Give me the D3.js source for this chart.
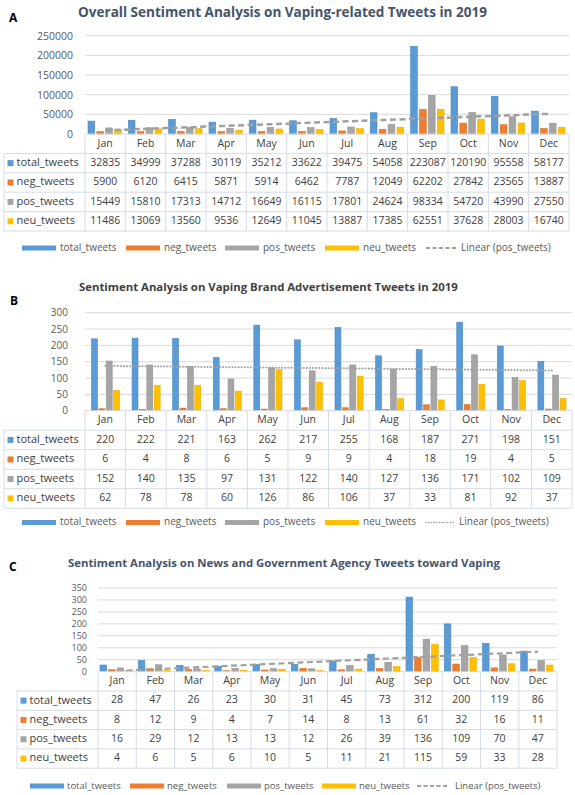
<!DOCTYPE html>
<html><head><meta charset="utf-8">
<script src="https://cdn.jsdelivr.net/npm/d3@7"></script>
<style>
body{margin:0;background:#fff}
svg{display:block}
text{font-family:'Open Sans',sans-serif}
</style>
</head><body>
<svg id="chart" width="575" height="795"></svg>
<script>
// ---------- DATA ----------
const months = ["Jan","Feb","Mar","Apr","May","Jun","Jul","Aug","Sep","Oct","Nov","Dec"];
const seriesNames = ["total_tweets","neg_tweets","pos_tweets","neu_tweets"];
const trendLabel = "Linear (pos_tweets)";

const aTotal = [32835,34999,37288,30119,35212,33622,39475,54058,223087,120190,95558,58177];
const aNeg   = [5900,6120,6415,5871,5914,6462,7787,12049,62202,27842,23565,13887];
const aPos   = [15449,15810,17313,14712,16649,16115,17801,24624,98334,54720,43990,27550];
const aNeu   = [11486,13069,13560,9536,12649,11045,13887,17385,62551,37628,28003,16740];
const aTicks = [0,50000,100000,150000,200000,250000];
const aTitle = "Overall Sentiment Analysis on Vaping-related Tweets in 2019";

const bTotal = [220,222,221,163,262,217,255,168,187,271,198,151];
const bNeg   = [6,4,8,6,5,9,9,4,18,19,4,5];
const bPos   = [152,140,135,97,131,122,140,127,136,171,102,109];
const bNeu   = [62,78,78,60,126,86,106,37,33,81,92,37];
const bTicks = [0,50,100,150,200,250,300];
const bTitle = "Sentiment Analysis on Vaping Brand Advertisement Tweets in 2019";

const cTotal = [28,47,26,23,30,31,45,73,312,200,119,86];
const cNeg   = [8,12,9,4,7,14,8,13,61,32,16,11];
const cPos   = [16,29,12,13,13,12,26,39,136,109,70,47];
const cNeu   = [4,6,5,6,10,5,11,21,115,59,33,28];
const cTicks = [0,50,100,150,200,250,300,350];
const cTitle = "Sentiment Analysis on News and Government Agency Tweets toward Vaping";

// ---------- STYLE ----------
const colors = ["#5B9BD5","#ED7D31","#A5A5A5","#FFC000"];
const strokes = ["#4a89c4","#d96d22","#959595","#e8ae00"];
const gridColor = "#D9D9D9";
const tableColor = "#D6DCE5";
const svg = d3.select("#chart");

function fitText(sel, target){
  const w = sel.node().getComputedTextLength();
  const fs = parseFloat(sel.attr("font-size"));
  sel.attr("font-size", (fs*target/w).toFixed(2));
}

function panel(cfg){
  const g = svg.append("g");
  const series = [cfg.total, cfg.neg, cfg.pos, cfg.neu];

  g.append("text").attr("x", cfg.letterX).attr("y", cfg.letterY)
    .attr("font-size", 12).attr("font-weight", 700).attr("fill", "#000")
    .attr("font-family","'Liberation Sans',Arial,sans-serif")
    .attr("dominant-baseline","middle").text(cfg.letter);

  const t = g.append("text").attr("x", cfg.titleX).attr("y", cfg.titleY)
    .attr("font-size", 14).attr("font-weight", 700).attr("fill", cfg.titleColor)
    .attr("dominant-baseline","middle").text(cfg.title);
  fitText(t, cfg.titleW);

  const x0 = d3.scaleBand().domain(months).range([cfg.left, cfg.right]).padding(0);
  const x1 = d3.scaleBand().domain(seriesNames)
    .range([cfg.barOff0, x0.bandwidth() - cfg.barOff1]).paddingInner(cfg.pIn).paddingOuter(0);
  const y = d3.scaleLinear().domain([0, d3.max(cfg.ticks)]).range([cfg.bottom, cfg.top]);

  g.append("g").selectAll("line").data(cfg.ticks.slice(1)).join("line")
    .attr("x1", cfg.left).attr("x2", cfg.right)
    .attr("y1", d => y(d)).attr("y2", d => y(d))
    .attr("stroke", gridColor).attr("stroke-width", 1);

  const ax = d3.axisLeft(y).tickValues(cfg.ticks).tickSize(0).tickPadding(0).tickFormat(d3.format("d"));
  const axG = g.append("g").attr("transform", `translate(${cfg.labelRight},0)`).call(ax);
  axG.select(".domain").remove();
  axG.selectAll("text").attr("font-size", cfg.axisFont).attr("fill", "#595959")
    .attr("font-family","'Open Sans',sans-serif");

  const mg = g.append("g").selectAll("g").data(months).join("g")
    .attr("transform", d => `translate(${x0(d)},0)`);
  mg.selectAll("rect").data((m,i) => series.map((s,k) => ({k, v: s[i]}))).join("rect")
    .attr("x", d => x1(seriesNames[d.k]))
    .attr("width", x1.bandwidth())
    .attr("y", d => y(d.v))
    .attr("height", d => cfg.bottom - y(d.v))
    .attr("fill", d => colors[d.k])
    .attr("stroke", d => strokes[d.k]).attr("stroke-width", 0.6);

  // linear trendline of pos series (least squares, like Excel)
  const n = cfg.pos.length;
  const xs = d3.range(1, n+1);
  const mx = d3.mean(xs), my = d3.mean(cfg.pos);
  const slope = d3.sum(xs, (xv,i) => (xv-mx)*(cfg.pos[i]-my)) / d3.sum(xs, xv => (xv-mx)*(xv-mx));
  const icpt = my - slope*mx;
  const trend = [1, n].map(xv => ({m: months[xv-1], v: icpt + slope*xv}));
  g.append("path").datum(trend)
    .attr("d", d3.line().x(d => x0(d.m) + x0.bandwidth()/2).y(d => y(d.v)))
    .attr("fill","none").attr("stroke", "#A0A0A0")
    .attr("stroke-width", cfg.trendW).attr("stroke-dasharray", cfg.dash)
    .attr("stroke-linecap", cfg.cap);

  const tb = g.append("g");
  const rowsY = d3.range(6).map(i => cfg.bottom + i*cfg.rowH);
  tb.append("line").attr("x1", cfg.left).attr("x2", cfg.right).attr("y1", rowsY[0]).attr("y2", rowsY[0])
    .attr("stroke", tableColor);
  for(let i=1;i<6;i++){
    tb.append("line").attr("x1", cfg.tableLeft).attr("x2", cfg.right).attr("y1", rowsY[i]).attr("y2", rowsY[i])
      .attr("stroke", tableColor);
  }
  months.forEach((m,i) => {
    tb.append("line").attr("x1", x0(m)).attr("x2", x0(m)).attr("y1", rowsY[0]).attr("y2", rowsY[5])
      .attr("stroke", tableColor);
  });
  tb.append("line").attr("x1", cfg.right).attr("x2", cfg.right).attr("y1", rowsY[0]).attr("y2", rowsY[5])
    .attr("stroke", tableColor);
  tb.append("line").attr("x1", cfg.tableLeft).attr("x2", cfg.tableLeft).attr("y1", rowsY[1]).attr("y2", rowsY[5])
    .attr("stroke", tableColor);

  tb.selectAll("text.m").data(months).join("text").attr("class","m")
    .attr("x", d => x0(d) + x0.bandwidth()/2).attr("y", (rowsY[0]+rowsY[1])/2)
    .attr("text-anchor","middle").attr("dominant-baseline","middle")
    .attr("font-size", cfg.cellFont).attr("fill", "#404040").text(d => d);

  series.forEach((s,k) => {
    const cy = (rowsY[k+1]+rowsY[k+2])/2;
    tb.append("rect").attr("x", cfg.tableLeft + 3.5).attr("y", cy-3).attr("width", 6).attr("height", 6)
      .attr("fill", colors[k]);
    tb.append("text").attr("x", cfg.tableLeft + 12.5).attr("y", cy)
      .attr("dominant-baseline","middle").attr("font-size", cfg.labelFont).attr("fill","#404040")
      .text(seriesNames[k]);
    tb.selectAll(null).data(s).join("text")
      .attr("x", (d,i) => x0(months[i]) + x0.bandwidth()/2).attr("y", cy)
      .attr("text-anchor","middle").attr("dominant-baseline","middle")
      .attr("font-size", cfg.cellFont).attr("fill","#404040").text(d => d);
  });

  const lg = g.append("g");
  seriesNames.forEach((nm,k) => {
    lg.append("rect").attr("x", cfg.legSw[k]).attr("y", cfg.legY-2.5).attr("width", 34).attr("height", 5)
      .attr("fill", colors[k]);
    lg.append("text").attr("x", cfg.legTx[k]).attr("y", cfg.legY).attr("dominant-baseline","middle")
      .attr("font-size", cfg.legFont).attr("fill","#595959").text(nm);
  });
  lg.append("line").attr("x1", cfg.legLine[0]).attr("x2", cfg.legLine[1]).attr("y1", cfg.legY).attr("y2", cfg.legY)
    .attr("stroke","#A0A0A0").attr("stroke-width", cfg.trendW*0.8).attr("stroke-dasharray", cfg.legDash)
    .attr("stroke-linecap", cfg.cap);
  lg.append("text").attr("x", cfg.legLine[2]).attr("y", cfg.legY).attr("dominant-baseline","middle")
    .attr("font-size", cfg.legFont).attr("fill","#595959").text(trendLabel);
}

panel({
  letter:"A", letterX:9, letterY:19, title:aTitle, titleX:78, titleY:13, titleW:409, titleColor:"#44546A",
  total:aTotal, neg:aNeg, pos:aPos, neu:aNeu, ticks:aTicks,
  left:85, right:569, top:35.7, bottom:134, labelRight:73, axisFont:10.5,
  barOff0:3, barOff1:4, pIn:0.25,
  trendW:2.5, dash:"6,3.5", cap:"butt",
  tableLeft:4, rowH:19.4, cellFont:10.5, labelFont:11,
  legY:248, legSw:[22,126,225,325], legTx:[60,164,263,363], legLine:[426,456,461], legFont:10, legDash:"4,2.5"
});

panel({
  letter:"B", letterX:10, letterY:302, title:bTitle, titleX:79, titleY:288, titleW:379, titleColor:"#404040",
  total:bTotal, neg:bNeg, pos:bPos, neu:bNeu, ticks:bTicks,
  left:85, right:572, top:312.7, bottom:410.7, labelRight:68, axisFont:10,
  barOff0:6.5, barOff1:6, pIn:0.2,
  trendW:2, dash:"0.1,3", cap:"round",
  tableLeft:4, rowH:19.5, cellFont:10.5, labelFont:11,
  legY:522.5, legSw:[22,126,225,325], legTx:[60,164,263,363], legLine:[426,455,459], legFont:10, legDash:"0.1,2.6"
});

panel({
  letter:"C", letterX:9, letterY:568, title:cTitle, titleX:68, titleY:564, titleW:432, titleColor:"#44546A",
  total:cTotal, neg:cNeg, pos:cPos, neu:cNeu, ticks:cTicks,
  left:98, right:557, top:588, bottom:671.7, labelRight:87, axisFont:9,
  barOff0:2, barOff1:4, pIn:0.23,
  trendW:2.2, dash:"6,3.5", cap:"butt",
  tableLeft:17, rowH:19.3, cellFont:10.5, labelFont:11,
  legY:786, legSw:[30,130,227,322], legTx:[67,167,264,359], legLine:[417,449,455], legFont:9.5, legDash:"4,2.5"
});
</script>
</body></html>
